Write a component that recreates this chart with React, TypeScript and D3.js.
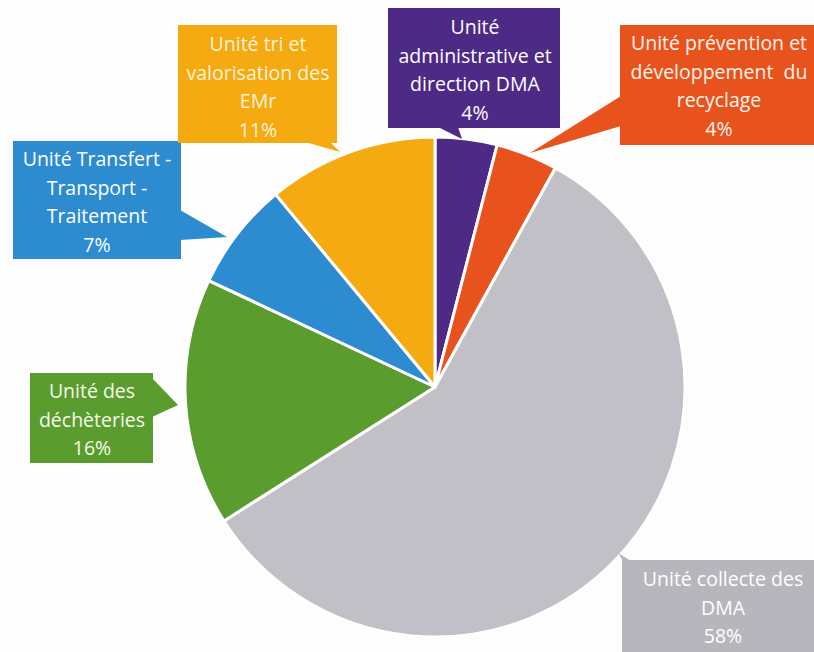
import * as d3 from 'd3';

// slices, clockwise from 12 o'clock
const labels = [
  ['Unité', 'administrative et', 'direction DMA'],
  ['Unité prévention et', 'développement  du', 'recyclage'],
  ['Unité collecte des', 'DMA'],
  ['Unité des', 'déchèteries'],
  ['Unité Transfert -', 'Transport -', 'Traitement'],
  ['Unité tri et', 'valorisation des', 'EMr'],
];
const values = [4, 4, 58, 16, 7, 11];
const colors = ['#4d2a85', '#e8531d', '#c1c0c7', '#5b9c2f', '#2d8bd0', '#f4aa10'];
const boxColors = ['#4d2a85', '#e8531d', '#b7b6bc', '#5b9c2f', '#2d8bd0', '#f4aa10'];
const textColors = ['#ffffff', '#fff4ec', '#ffffff', '#f4fbe9', '#ffffff', '#fff3d8'];

// callout boxes: x, y, w, h, text centre, first baseline, pointer polygon
const callouts = [
  { x: 388, y: 8, w: 172, h: 120, cx: 475, y0: 34, ptr: [[438, 127], [458, 127], [462, 139]] },
  { x: 620, y: 25, w: 200, h: 120, cx: 719, y0: 50, ptr: [[621, 96], [621, 126], [530, 153]] },
  { x: 622, y: 560, w: 200, h: 100, cx: 723, y0: 586, ptr: [[623, 561], [631, 561], [618, 553]] },
  { x: 30, y: 373, w: 123, h: 90, cx: 92, y0: 398, ptr: [[152, 378], [152, 417], [178, 405]] },
  { x: 13, y: 141, w: 168, h: 118, cx: 97, y0: 166, ptr: [[180, 210], [180, 240], [227, 237]] },
  { x: 178, y: 25, w: 159, h: 118, cx: 258, y0: 51, ptr: [[305, 142], [330, 142], [340, 152]] },
];

const W = 814;
const H = 652;
const cx = 435;
const cy = 387;
const r = 250;
const lineH = 28.5;

const App = () => {
  const pie = d3.pie<number>().sort(null).startAngle(0).endAngle(2 * Math.PI)(values);
  const arc = d3.arc<d3.PieArcDatum<number>>().innerRadius(0).outerRadius(r);
  const total = d3.sum(values);

  return (
    <div style={{ position: 'absolute', left: 0, top: 0 }}>
      <svg width={W} height={H} style={{ display: 'block', background: '#fdfdfd' }}>
        <g transform={`translate(${cx},${cy})`}>
          {pie.map((d, i) => (
            <path key={i} d={arc(d)} fill={colors[i]} stroke="#ffffff" strokeWidth={3} strokeLinejoin="round" />
          ))}
        </g>
        {callouts.map((c, i) => (
          <g key={i}>
            <rect x={c.x} y={c.y} width={c.w} height={c.h} fill={boxColors[i]} />
            <polygon points={c.ptr.map((p) => p.join(',')).join(' ')} fill={boxColors[i]} />
            <text
              textAnchor="middle"
              style={{ fontFamily: '"Open Sans", Lato, sans-serif', fontSize: 19.5 }}
              fill={textColors[i]}
            >
              {labels[i].map((l, j) => (
                <tspan key={j} x={c.cx} y={c.y0 + j * lineH} style={{ whiteSpace: 'pre' }}>{l}</tspan>
              ))}
              <tspan x={c.cx} y={c.y0 + labels[i].length * lineH}>
                {Math.round((values[i] / total) * 100)}%
              </tspan>
            </text>
          </g>
        ))}
      </svg>
    </div>
  );
};

export default App;
